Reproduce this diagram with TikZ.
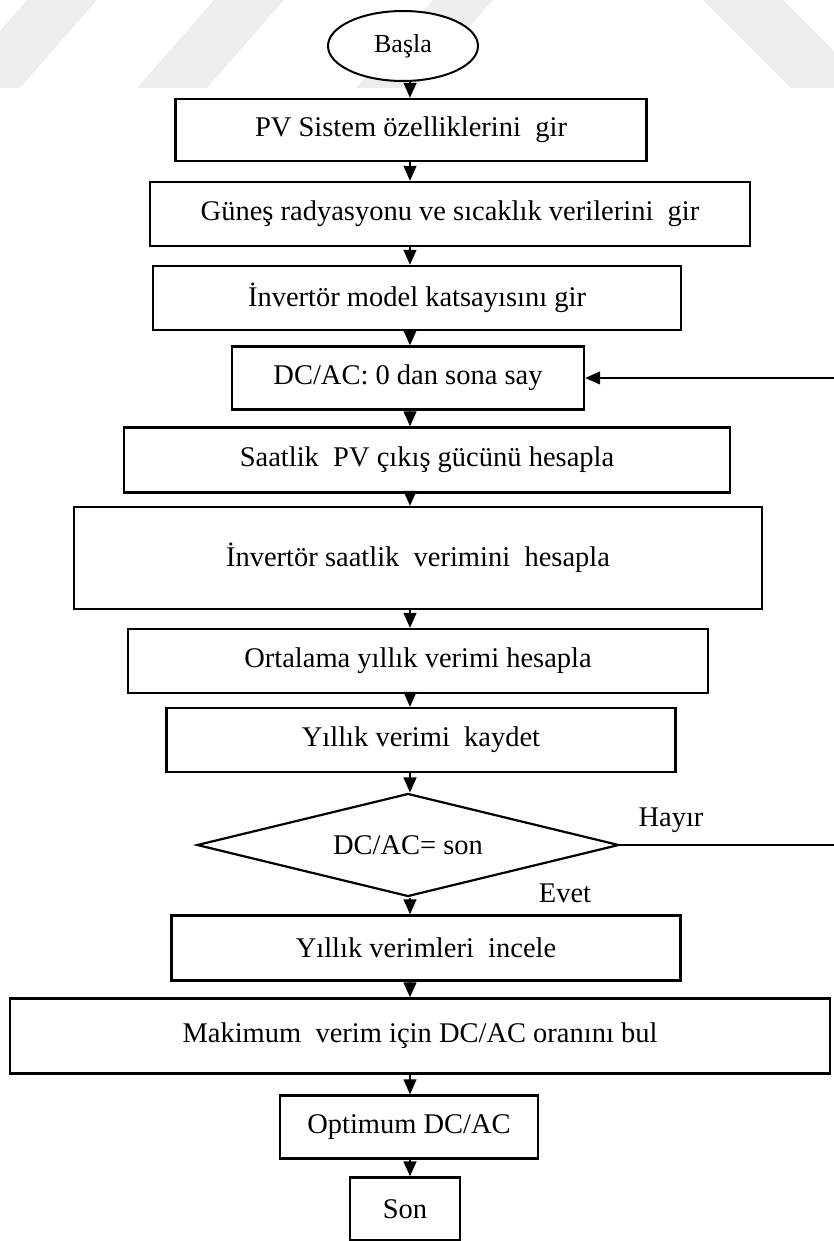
\documentclass[tikz,border=0pt]{standalone}
\usepackage{fontspec}
\setmainfont{Liberation Serif}
\usetikzlibrary{shapes.geometric,arrows.meta}

\begin{document}
\begin{tikzpicture}[x=1pt,y=-1pt,>={Triangle[width=13pt,length=15pt]},
  font=\fontsize{28.5}{34}\selectfont,
  proc node/.style={rectangle,draw,line width=2.4pt,fill=white,inner sep=0pt,align=center},
  term node/.style={ellipse,draw,line width=2pt,fill=white,inner sep=0pt},
  dec node/.style={diamond,aspect=4,draw,line width=2.2pt,fill=white,inner sep=0pt},
  flow/.style={->,line width=1.4pt},
  mark band/.style={fill=black!7}]

  \useasboundingbox (0,0) rectangle (833,1241);

  % faint watermark stripes at the top
  \fill[mark band] (-50,88) -- (20,88) -- (97,0) -- (27,0) -- cycle;
  \fill[mark band] (137,88) -- (207,88) -- (284,0) -- (214,0) -- cycle;
  \fill[mark band] (356,88) -- (416,88) -- (493,0) -- (433,0) -- cycle;
  \fill[mark band] (703,0) -- (783,0) -- (871,88) -- (791,88) -- cycle;

  \coordinate (col) at (410,0);

  \node[term node,minimum width=150,minimum height=70,font=\fontsize{26}{30}\selectfont] (start) at (403,46) {Başla};
  \node[proc node,minimum width=471,minimum height=62] (pv)    at (411,130)  {PV Sistem özelliklerini~ gir};
  \node[proc node,minimum width=600,minimum height=64] (sun)   at (450,214)  {Güneş radyasyonu ve sıcaklık verilerini~ gir};
  \node[proc node,minimum width=528,minimum height=64] (inv)   at (417,298)  {İnvertör model katsayısını gir};
  \node[proc node,minimum width=352,minimum height=63] (count) at (408,378)  {DC/AC: 0 dan sona say};
  \node[proc node,minimum width=606,minimum height=65] (pvout) at (427,460)  {Saatlik~ PV çıkış gücünü hesapla};
  \node[proc node,minimum width=688,minimum height=102] (ieff) at (418,558)  {İnvertör saatlik~ verimini~ hesapla};
  \node[proc node,minimum width=580,minimum height=64] (avg)   at (418,661)  {Ortalama yıllık verimi hesapla};
  \node[proc node,minimum width=509,minimum height=64] (save)  at (421,740)  {Yıllık verimi~ kaydet};
  \node[dec node,minimum width=422,minimum height=103] (dec)   at (408,845)  {DC/AC= son};
  \node[proc node,minimum width=509,minimum height=65] (check) at (426,948)  {Yıllık verimleri~ incele};
  \node[proc node,minimum width=820,minimum height=75] (maxf)  at (420,1036) {Makimum~ verim için DC/AC oranını bul};
  \node[proc node,minimum width=258,minimum height=63] (opt)   at (409,1127) {Optimum DC/AC};
  \node[proc node,minimum width=110,minimum height=63] (stop)  at (405,1209) {Son};

  \node (no)  at (671,820) {Hayır};
  \node (yes) at (565,893) {Evet};

  \foreach \a/\b in {start/pv,pv/sun,sun/inv,inv/count,count/pvout,pvout/ieff,
    ieff/avg,avg/save,save/dec,dec/check,check/maxf,maxf/opt,opt/stop}
    \draw[flow] (\a.south -| col) -- (\b.north -| col);

  % back to the counter when not finished
  \draw[->,line width=1.3pt] (dec.east) -- ++(240,0) |- (count.east);
\end{tikzpicture}
\end{document}
